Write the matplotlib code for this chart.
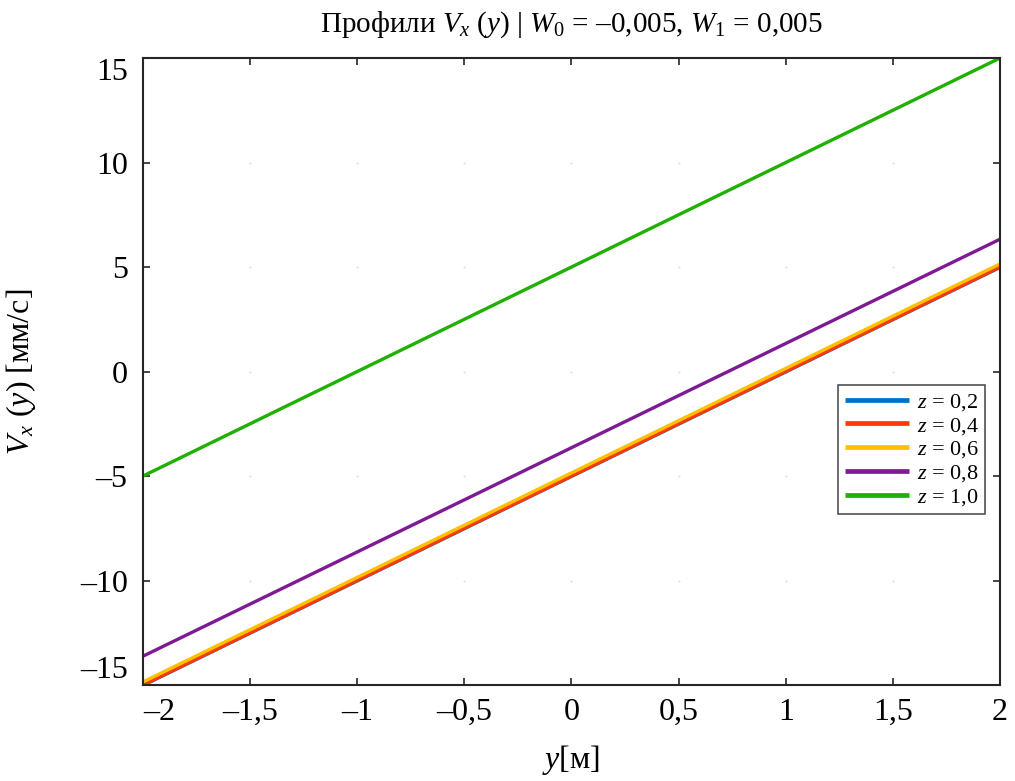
import matplotlib
matplotlib.use("Agg")
import matplotlib.pyplot as plt
import matplotlib.ticker as mticker
import numpy as np

matplotlib.rcParams.update({
    'font.family': 'Liberation Serif',
    'mathtext.fontset': 'custom',
    'mathtext.rm': 'Liberation Serif',
    'mathtext.it': 'Liberation Serif:italic',
    'mathtext.bf': 'Liberation Serif:bold',
})

# profile endpoints V_x(y) for each z, mm/s
y_pts = [-2.0, 2.0]
z_labels = ['0,2', '0,4', '0,6', '0,8', '1,0']
v_z02 = [-15.02, 4.98]
v_z04 = [-15.0, 5.0]
v_z06 = [-14.85, 5.15]
v_z08 = [-13.62, 6.33]
v_z10 = [-5.0, 15.0]
profiles = [v_z02, v_z04, v_z06, v_z08, v_z10]
colors = ['#0072C6', '#FF3A00', '#FFC000', '#7E1A94', '#1FB000']

x_ticks = [-2, -1.5, -1, -0.5, 0, 0.5, 1, 1.5, 2]
y_ticks = [-15, -10, -5, 0, 5, 10, 15]

fig = plt.figure(figsize=(10.15, 7.81), dpi=100)
ax = fig.add_axes([0.1409, 0.1229, 0.8443, 0.8028])

# faint grid dots at tick crossings
gx, gy = np.meshgrid(x_ticks, y_ticks)
ax.plot(gx.ravel(), gy.ravel(), 's', ms=1.2, color='#d8d8d8', mew=0, zorder=0)

for v, c, lab in zip(profiles, colors, z_labels):
    ax.plot(y_pts, v, color=c, lw=2.4, label='$z$ = ' + lab, solid_capstyle='butt')

ax.set_xlim(-2, 2)
ax.set_ylim(-15, 15)
ax.set_xticks(x_ticks)
ax.set_yticks(y_ticks)


def fmt(v, pos=None):
    s = ('%g' % v).replace('.', ',')
    return s.replace('-', '\u2013')


ax.xaxis.set_major_formatter(mticker.FuncFormatter(fmt))
ax.yaxis.set_major_formatter(mticker.FuncFormatter(fmt))

ax.tick_params(direction='in', length=5, width=1.2, color='#262626',
               top=True, right=True, labelsize=23, labelcolor='black')
ax.tick_params(axis='x', pad=9)
ax.tick_params(axis='y', pad=11)
for sp in ax.spines.values():
    sp.set_color('#262626')
    sp.set_linewidth(1.5)

fig.canvas.draw()
ylabs = ax.get_yticklabels()
ylabs[0].set_va('bottom')
ylabs[-1].set_va('top')
ax.get_xticklabels()[0].set_ha('left')

ax.set_title('Профили $V_x$ ($y$) | $W_0$ = \u20130,005, $W_1$ = 0,005',
             fontsize=21, pad=19)
ax.set_xlabel('$y$[м]', fontsize=23, labelpad=12)
ax.set_ylabel('$V_x$ ($y$) [мм/с]', fontsize=23, labelpad=30)

leg = ax.legend(loc='center right', bbox_to_anchor=(0.983, 0.375), fontsize=16,
                frameon=True, fancybox=False, handlelength=2.9, handletextpad=0.35,
                labelspacing=0.12, borderpad=0.3, borderaxespad=0.0)
leg.get_frame().set_edgecolor('#262626')
leg.get_frame().set_linewidth(1.2)
for h in leg.get_lines():
    h.set_linewidth(3.4)

fig.savefig('out.png', dpi=100)
